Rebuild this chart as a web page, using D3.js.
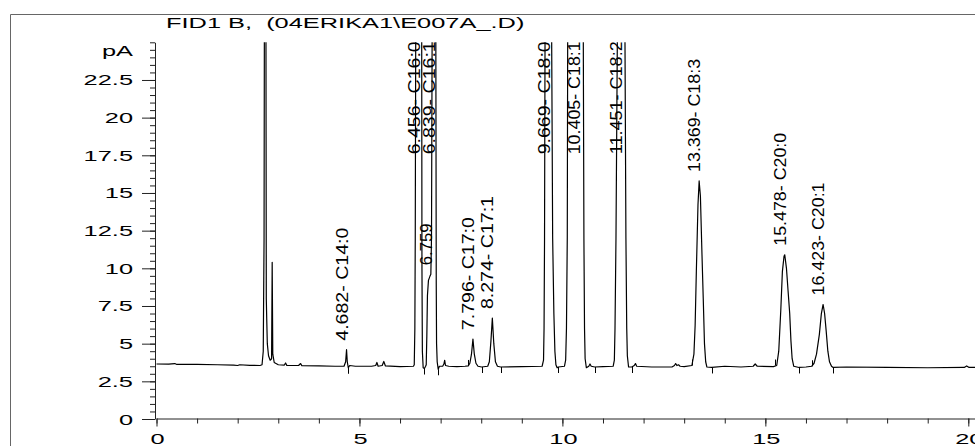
<!DOCTYPE html>
<html lang="en">
<head>
<meta charset="utf-8">
<title>FID1 B chromatogram</title>
<script src="https://d3js.org/d3.v7.min.js"></script>
<style>
  body { margin: 0; background: #fff; }
  text { font-family: "Liberation Sans", Arial, sans-serif; fill: #000; }
</style>
</head>
<body>
<script>
// retention time (min), signal (pA)
var signal = [
  [0, 3.65], [0.3, 3.64], [0.45, 3.68], [0.5, 3.62], [1.0, 3.62], [1.5, 3.6], [1.9, 3.58],
  [2.0, 3.55], [2.05, 3.6], [2.3, 3.56], [2.55, 3.55], [2.60, 3.6], [2.63, 4.5], [2.65, 12],
  [2.665, 40], [2.69, 40], [2.70, 18.7], [2.705, 8], [2.715, 6.7], [2.73, 5.0], [2.76, 4.2],
  [2.80, 3.9], [2.835, 4.0], [2.85, 10.4], [2.865, 4.3], [2.9, 3.75], [3.0, 3.6], [3.15, 3.58],
  [3.18, 3.72], [3.21, 3.56], [3.5, 3.55], [3.55, 3.68], [3.58, 3.54], [4.0, 3.52], [4.4, 3.5],
  [4.62, 3.5], [4.66, 3.8], [4.682, 4.6], [4.70, 3.8], [4.725, 3.4], [4.76, 3.55], [4.9, 3.5],
  [5.3, 3.5], [5.40, 3.55], [5.43, 3.75], [5.46, 3.5], [5.56, 3.55], [5.60, 3.82], [5.64, 3.52],
  [6.0, 3.48], [6.33, 3.5], [6.35, 3.6], [6.365, 6], [6.375, 12], [6.386, 25], [6.40, 80],
  [6.456, 150], [6.51, 80], [6.534, 25], [6.54, 10], [6.55, 4.5], [6.57, 3.4], [6.60, 3.35],
  [6.63, 3.5], [6.645, 3.6], [6.66, 5.5], [6.675, 8.2], [6.70, 9.2], [6.74, 9.5], [6.759, 9.6],
  [6.775, 12], [6.79, 25], [6.80, 60], [6.839, 150], [6.87, 60], [6.882, 25], [6.892, 9],
  [6.90, 5], [6.915, 3.8], [6.94, 3.3], [6.97, 3.5], [7.05, 3.5], [7.08, 3.65], [7.10, 3.9],
  [7.12, 3.55], [7.2, 3.5], [7.4, 3.48], [7.6, 3.5], [7.68, 3.52], [7.72, 3.7], [7.76, 4.3],
  [7.796, 5.3], [7.83, 4.3], [7.87, 3.7], [7.92, 3.5], [8.01, 3.45], [8.16, 3.5], [8.20, 3.8],
  [8.24, 5.2], [8.274, 6.7], [8.31, 5.0], [8.35, 3.8], [8.40, 3.5], [8.48, 3.45], [9.0, 3.48],
  [9.5, 3.5], [9.535, 3.9], [9.548, 6], [9.56, 12], [9.572, 25], [9.59, 60], [9.669, 150],
  [9.72, 60], [9.736, 25], [9.76, 12], [9.79, 7], [9.815, 4.5], [9.84, 3.6], [9.87, 3.4],
  [9.90, 3.45], [10.05, 3.5], [10.08, 3.9], [10.10, 6], [10.12, 12], [10.13, 25], [10.15, 60],
  [10.30, 300], [10.405, 320], [10.50, 60], [10.515, 25], [10.53, 12], [10.545, 6], [10.56, 4],
  [10.59, 3.4], [10.65, 3.5], [10.68, 3.65], [10.71, 3.5], [10.80, 3.45], [11.0, 3.48],
  [11.25, 3.5], [11.28, 3.9], [11.296, 6], [11.32, 12], [11.353, 25], [11.38, 60], [11.451, 150],
  [11.52, 60], [11.542, 25], [11.565, 12], [11.585, 6], [11.60, 4.2], [11.63, 3.45],
  [11.71, 3.45], [11.77, 3.55], [11.80, 3.68], [11.83, 3.5], [12.2, 3.45], [12.7, 3.45],
  [12.76, 3.55], [12.79, 3.68], [12.82, 3.55], [12.86, 3.6], [12.9, 3.5], [13.0, 3.48],
  [13.19, 3.55], [13.24, 4.3], [13.27, 6.2], [13.30, 9.8], [13.34, 14.2], [13.369, 15.8],
  [13.40, 14.8], [13.44, 10.8], [13.47, 8.0], [13.50, 5.0], [13.53, 3.8], [13.56, 3.45],
  [13.68, 3.42], [14.0, 3.5], [14.4, 3.45], [14.7, 3.5], [14.75, 3.65], [14.8, 3.5],
  [15.2, 3.48], [15.28, 3.55], [15.33, 4.5], [15.38, 7.2], [15.42, 9.8], [15.46, 10.8],
  [15.478, 10.9], [15.52, 10.0], [15.56, 8.5], [15.60, 7.0], [15.63, 5.2], [15.66, 4.0],
  [15.70, 3.5], [15.83, 3.42], [16.0, 3.45], [16.14, 3.5], [16.20, 3.7], [16.26, 4.3],
  [16.33, 5.6], [16.38, 7.0], [16.423, 7.6], [16.46, 7.0], [16.50, 5.8], [16.54, 4.5],
  [16.58, 3.8], [16.63, 3.5], [16.67, 3.42], [17.0, 3.45], [18.0, 3.42], [19.0, 3.4],
  [19.9, 3.42], [19.96, 3.52], [20.02, 3.42], [20.17, 3.42]
];

var peakRT   = [4.682, 6.456, 6.759, 6.839, 7.796, 8.274, 9.669, 10.405, 11.451, 13.369, 15.478, 16.423];
var peakName = ["C14:0", "C16:0", "", "C16:1", "C17:0", "C17:1", "C18:0", "C18:1", "C18:2", "C18:3", "C20:0", "C20:1"];
var peakTop  = [4.6, 150, 9.6, 150, 5.3, 6.7, 150, 320, 150, 15.8, 10.9, 7.6];

var peakStarts = [7.68, 13.19, 15.24, 16.14];
var peakEnds   = [4.725, 6.59, 6.94, 8.01, 8.48, 9.90, 10.80, 11.71, 13.68, 15.83, 16.67];

var xMajor = [0, 5, 10, 15, 20];
var yMajor = [0, 2.5, 5, 7.5, 10, 12.5, 15, 17.5, 20, 22.5];
var yLabels = ["0", "2.5", "5", "7.5", "10", "12.5", "15", "17.5", "20", "22.5"];
var title = "FID1 B,  (04ERIKA1\\E007A_.D)";
var yUnit = "pA";

var W = 975, H = 446;
var sx = 1.66;   // the picture's text is stretched sideways

var x = d3.scaleLinear().domain([0, 20]).range([156.5, 968.3]);
var y = d3.scaleLinear().domain([0, 25]).range([419, 42.3]);
var xFull = x.copy().domain([0, x.invert(W)]).range([x(0), W]);

var svg = d3.select("body").append("svg")
  .attr("width", W).attr("height", H);

svg.append("rect").attr("width", W).attr("height", H).attr("fill", "#fff");

// frame
svg.append("path")
  .attr("d", "M10.5," + H + "V14.5H" + W)
  .attr("fill", "none").attr("stroke", "#666").attr("stroke-width", 1);

svg.append("text")
  .attr("transform", "translate(166,28.3) scale(" + sx + ",1)")
  .style("font-size", "15.3px")
  .style("white-space", "pre")
  .text(title);

svg.append("defs").append("clipPath").attr("id", "plot")
  .append("rect")
  .attr("x", x(0) - 1).attr("y", y(25))
  .attr("width", W - x(0) + 1).attr("height", y(0) - y(25));

// y axis
var yMinor = d3.range(0, 25.01, 0.5);
var yAxisG = svg.append("g").attr("transform", "translate(155,0)");
yAxisG.call(d3.axisLeft(y).tickValues(yMinor).tickSize(5).tickSizeOuter(0).tickFormat(""));
yAxisG.append("g").call(d3.axisLeft(y).tickValues(yMajor).tickSize(13).tickSizeOuter(0).tickFormat(""))
  .select(".domain").remove();
yAxisG.selectAll("line, path").attr("stroke", "#222");

svg.selectAll(".ylab").data(yMajor).enter().append("text")
  .attr("class", "ylab")
  .attr("transform", function(d) { return "translate(133," + (y(d) + 5.5) + ") scale(" + sx + ",1)"; })
  .attr("text-anchor", "end")
  .style("font-size", "15.3px")
  .text(function(d, i) { return yLabels[i]; });

svg.append("text")
  .attr("transform", "translate(133," + (y(25) + 14) + ") scale(" + sx + ",1)")
  .attr("text-anchor", "end")
  .style("font-size", "15.3px")
  .text(yUnit);

// x axis
var xMinor = d3.range(0, 21, 1);
var xAxisG = svg.append("g").attr("transform", "translate(0,418.5)");
xAxisG.call(d3.axisBottom(xFull).tickValues(xMinor).tickSize(5).tickSizeOuter(0).tickFormat(""));
xAxisG.append("g").call(d3.axisBottom(xFull).tickValues(xMajor).tickSize(8).tickSizeOuter(0).tickFormat(""))
  .select(".domain").remove();
xAxisG.selectAll("line, path").attr("stroke", "#222");

svg.selectAll(".xlab").data(xMajor).enter().append("text")
  .attr("class", "xlab")
  .attr("transform", function(d) { return "translate(" + (x(d) + 1) + ",444) scale(" + sx + ",1)"; })
  .attr("text-anchor", "middle")
  .style("font-size", "15.3px")
  .text(function(d) { return d; });

// trace
var plot = svg.append("g").attr("clip-path", "url(#plot)");

var line = d3.line()
  .x(function(d) { return xFull(d[0]); })
  .y(function(d) { return y(d[1]); });

plot.append("path")
  .datum(signal)
  .attr("d", line)
  .attr("fill", "none")
  .attr("stroke", "#000")
  .attr("stroke-width", 1.2)
  .attr("stroke-linejoin", "round");

// baseline start / end markers
var bis = d3.bisector(function(d) { return d[0]; }).left;
function valueAt(t) {
  var i = bis(signal, t);
  return signal[Math.min(i, signal.length - 1)][1];
}
plot.selectAll(".pend").data(peakEnds).enter().append("line")
  .attr("x1", function(d) { return Math.round(x(d)) + 0.5; })
  .attr("x2", function(d) { return Math.round(x(d)) + 0.5; })
  .attr("y1", function(d) { return y(valueAt(d)); })
  .attr("y2", function(d) { return y(valueAt(d)) + 6; })
  .attr("stroke", "#000").attr("stroke-width", 1);
plot.selectAll(".pstart").data(peakStarts).enter().append("line")
  .attr("x1", function(d) { return Math.round(x(d)) + 0.5; })
  .attr("x2", function(d) { return Math.round(x(d)) + 0.5; })
  .attr("y1", function(d) { return y(valueAt(d)); })
  .attr("y2", function(d) { return y(valueAt(d)) - 6; })
  .attr("stroke", "#000").attr("stroke-width", 1);

// peak labels (squeezed to one length like the instrument printout)
var labels = plot.selectAll(".plab").data(peakRT).enter().append("text")
  .attr("class", "plab")
  .attr("transform", function(d, i) {
    var px = x(d) + 1;
    var py = peakTop[i] > 25 ? y(25) + 112 : y(peakTop[i]) - 9;
    return "translate(" + px + "," + py + ") rotate(-90)";
  })
  .style("font-size", "16.8px")
  .text(function(d, i) {
    return peakName[i] ? d.toFixed(3) + "- " + peakName[i] : d.toFixed(3);
  });
labels.filter(function(d, i) { return peakName[i] !== ""; })
  .attr("textLength", 113)
  .attr("lengthAdjust", "spacingAndGlyphs");
</script>
</body>
</html>
